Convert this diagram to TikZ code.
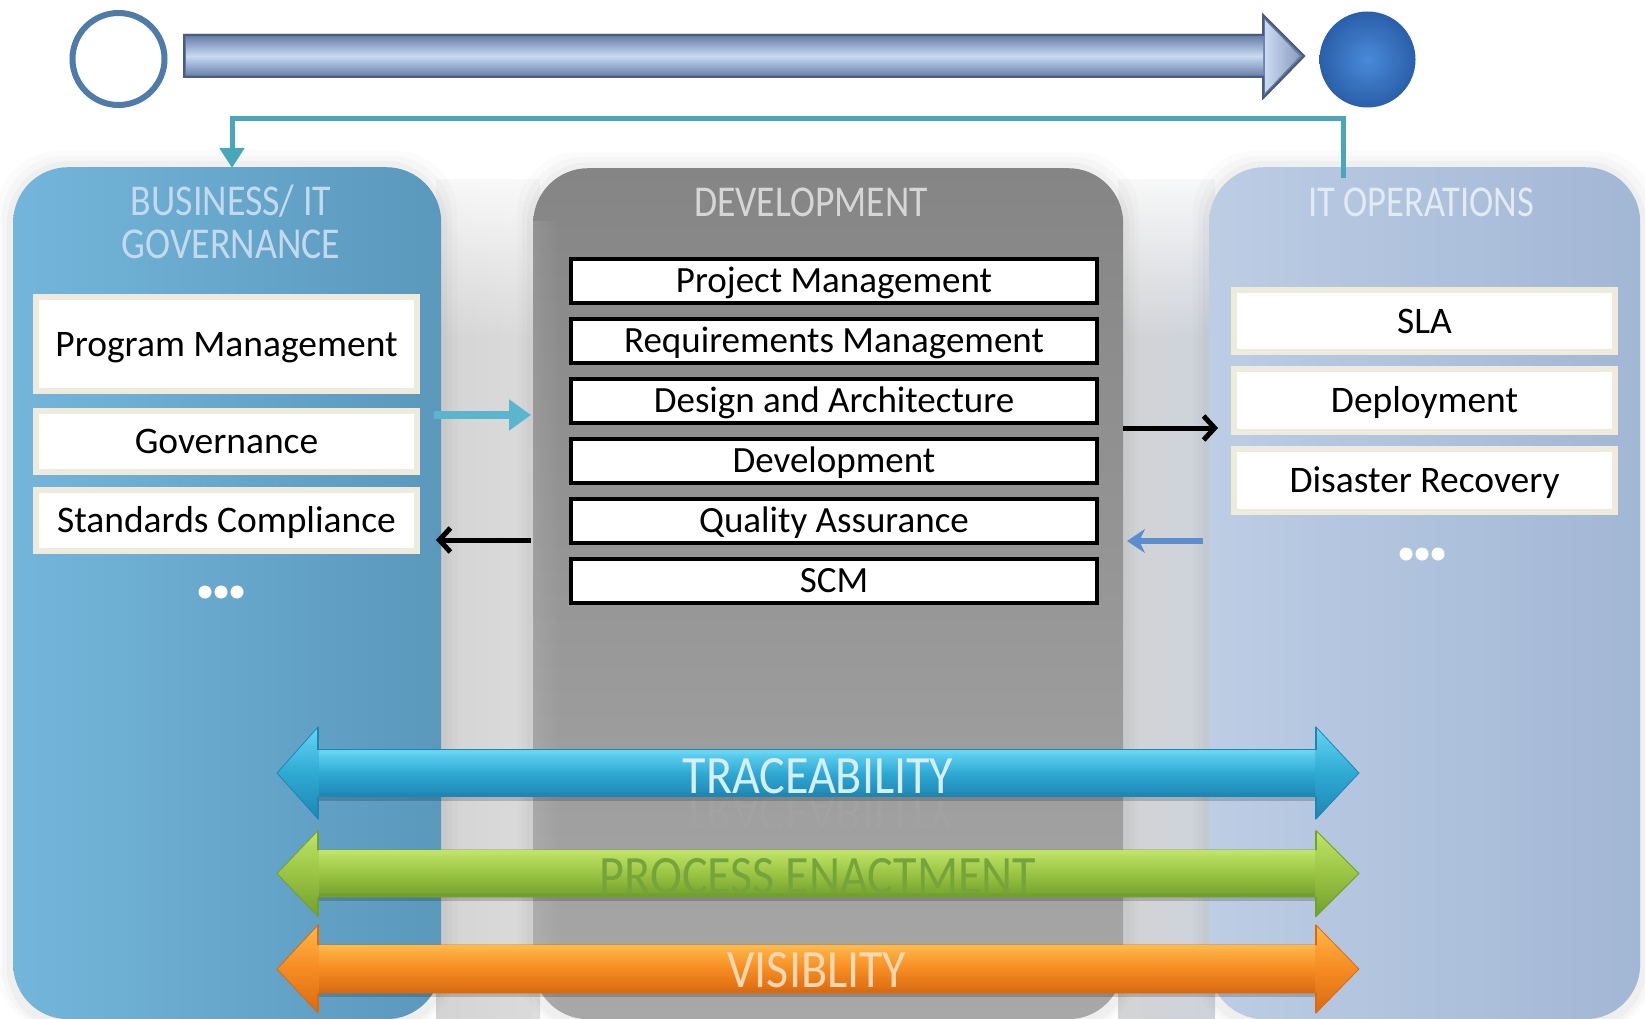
\documentclass[tikz,border=0pt]{standalone}
\usepackage{fontspec}
\setmainfont{Carlito}
\usetikzlibrary{arrows.meta,fadings}
\definecolor{bizL}{HTML}{74B6DB}
\definecolor{bizR}{HTML}{5A98BC}
\definecolor{devT}{HTML}{858585}
\definecolor{devB}{HTML}{A8A8A8}
\definecolor{opsL}{HTML}{BCCDE4}
\definecolor{opsR}{HTML}{A2B7D5}
\definecolor{gapR}{HTML}{CDD3DD}
\definecolor{cTeal}{HTML}{4AA7B9}
\definecolor{cTealArr}{HTML}{5AB6CF}
\definecolor{cBlueArr}{HTML}{5A8ED0}
\definecolor{cCream}{HTML}{EEEBDD}
\definecolor{hdrBiz}{HTML}{C3DAEE}
\definecolor{hdrDev}{HTML}{D6D6D6}
\definecolor{hdrOps}{HTML}{E2EAF3}
\definecolor{trcM}{HTML}{2FA9D4}
\definecolor{trcT}{HTML}{66D6F4}
\definecolor{trcB}{HTML}{1E86B3}
\definecolor{grnM}{HTML}{9AC444}
\definecolor{grnT}{HTML}{C0E468}
\definecolor{grnB}{HTML}{72A02C}
\definecolor{orgM}{HTML}{F68B22}
\definecolor{orgT}{HTML}{FDB84A}
\definecolor{orgB}{HTML}{D96A10}
\definecolor{trcTxt}{HTML}{D5EEF8}
\definecolor{grnTxt}{HTML}{76A43A}
\definecolor{orgTxt}{HTML}{FCD8B0}
\definecolor{bigEdge}{HTML}{4B5C7C}
\definecolor{bigDark}{HTML}{6C84AC}
\definecolor{bigLight}{HTML}{CADAF4}
\definecolor{startEdge}{HTML}{4E7BA8}
\definecolor{endIn}{HTML}{4A8AD8}
\definecolor{endOut}{HTML}{2A5FAA}
\tikzset{
  panel/.style={rounded corners=55pt, anchor=north west, inner sep=0pt},
  glow/.style={fill=gray, rounded corners=62pt},
  hdr/.style={font=\fontsize{44}{45}\selectfont, inner sep=0pt, align=center},
  sidebox/.style={draw=cCream, line width=6pt, fill=white, minimum width=381pt,
     font=\fontsize{37.5}{40}\selectfont, text height=24pt, text depth=0pt, inner sep=0pt},
  devbox/.style={draw=black, line width=4pt, fill=white, minimum width=526pt, minimum height=44pt,
     font=\fontsize{37}{40}\selectfont, text height=23.5pt, text depth=0pt, inner sep=0pt},
  dotnode/.style={circle, fill=white, minimum size=13pt, inner sep=0pt},
  blackarr/.style={draw=black, line width=5pt, -{Straight Barb[length=11pt,width=24pt,line width=5pt]}},
  tealarr/.style={draw=cTealArr, line width=8pt, -{Triangle[length=22pt,width=30pt]}},
  bluearr/.style={draw=cBlueArr, line width=6pt, -{Stealth[length=18pt,width=24pt]}},
  conn/.style={draw=cTeal, line width=5pt, -{Triangle[length=20pt,width=24pt]}},
  bandtxt/.style={font=\fontsize{54}{56}\selectfont, inner sep=0pt, text height=35pt, text depth=0pt},
  refl/.style={font=\fontsize{54}{56}\selectfont, inner sep=0pt, opacity=0.16},
}
% #1 centre y, #2 shaft half height, #3 head half height, #4 edge, #5 main, #6 light, #7 dark
\newcommand\bandarrow[7]{%
  \fill[black, opacity=0.18] (318,{#1+#2}) rectangle (1318,{#1+#2+4});
  \path[top color=#6, bottom color=#7, middle color=#5, draw=#4, line width=0.8pt]
    (277,#1) -- (318,{#1-#3}) -- (318,{#1-#2}) -- (1316,{#1-#2}) -- (1316,{#1-#3}) -- (1359,#1)
    -- (1316,{#1+#3}) -- (1316,{#1+#2}) -- (318,{#1+#2}) -- (318,{#1+#3}) -- cycle;
  \fill[top color=#6, bottom color=#7, middle color=#5] (319,{#1-#2+0.5}) rectangle (1315,{#1+#2-0.5});
  \fill[#6, opacity=0.8] (319,{#1-#2+0.5}) rectangle (1315,{#1-#2+4});
  \fill[#7, opacity=0.5] (319,{#1+#2-4}) rectangle (1315,{#1+#2-0.5});
  \draw[#4, line width=1.2pt] (318,{#1-#3}) -- (318,{#1-#2}) (318,{#1+#2}) -- (318,{#1+#3});
  \draw[#4, line width=1.2pt] (1316,{#1-#3}) -- (1316,{#1-#2}) (1316,{#1+#2}) -- (1316,{#1+#3});
}
\begin{document}
\begin{tikzpicture}[x=1pt,y=-1pt]
\useasboundingbox (0,0) rectangle (1645,1019);
\fill[white] (0,0) rectangle (1645,1019);

% gaps between panels
\fill[left color=gray!34, middle color=gray!10, right color=gray!28] (436,180) rectangle (540,1019);
\fill[left color=gray!34, middle color=gray!12, right color=gapR] (1118,180) rectangle (1215,1019);
\fill[white, path fading=south] (420,150) rectangle (555,340);
\fill[white, path fading=south] (1100,150) rectangle (1230,340);

% glows
\foreach \d/\o in {16/0.03, 11/0.04, 6/0.05}{
  \fill[glow, opacity=\o] ({13-\d},{167-\d}) rectangle ({441+\d},1030);
  \fill[glow, opacity=\o] ({533-\d},{168-\d}) rectangle ({1123+\d},1030);
  \fill[glow, opacity=\o] ({1209-\d},{167-\d}) rectangle ({1640+\d},1030);
}

% panels
\node[panel, minimum width=428pt, minimum height=852pt, left color=bizL, right color=bizR] (biz) at (13,167) {};
\node[panel, minimum width=590pt, minimum height=851pt, top color=devT, bottom color=devB] (dev) at (533,168) {};
\node[panel, minimum width=431pt, minimum height=852pt, left color=opsL, right color=opsR] (ops) at (1209,167) {};
\fill[white, opacity=0.1, path fading=east] (533,220) rectangle (560,1019);

% headers
\node[hdr, text=hdrBiz] (bizhdr) at (231,222) {\scalebox{0.86}[1]{BUSINESS/ IT}\\[-2pt]\scalebox{0.86}[1]{GOVERNANCE}};
\node[hdr, text=hdrDev] (devhdr) at (811,202) {\scalebox{0.855}[1]{DEVELOPMENT}};
\node[hdr, text=hdrOps] (opshdr) at (1421,202) {\scalebox{0.83}[1]{IT OPERATIONS}};

% top progress arrow
\path[fill=bigDark, draw=bigEdge, line width=2pt, line join=miter]
  (184,35) -- (1263,35) -- (1263,15) -- (1304,56) -- (1263,98) -- (1263,77) -- (184,77) -- cycle;
\fill[top color=bigDark, bottom color=bigDark, middle color=bigLight] (186,37) rectangle (1263,75);
\fill[left color=bigLight, right color=bigDark!80] (1265,20) -- (1300,56) -- (1265,93) -- cycle;
\draw[bigEdge, line width=2pt, line join=miter]
  (184,35) -- (1263,35) -- (1263,15) -- (1304,56) -- (1263,98) -- (1263,77) -- (184,77) -- cycle;

\node[circle, draw=startEdge, line width=6pt, fill=white, minimum size=92pt] (start) at (118.5,59) {};
\node[circle, inner color=endIn, outer color=endOut, minimum size=96pt] (finish) at (1367.5,59.5) {};

% feedback connector
\coordinate (opsTop) at (1343,178);
\coordinate (bizTop) at (232,168);
\coordinate (rail) at (0,119);
\draw[conn] (opsTop) -- (opsTop |- rail) -- (bizTop |- rail) -- (bizTop);

% left boxes
\node[sidebox, minimum height=94pt] (prog) at (226.5,344) {Program Management};
\node[sidebox, minimum height=61pt] (gov) at (226.5,441.5) {Governance};
\node[sidebox, minimum height=61pt] (std) at (226.5,520.5) {Standards Compliance};
\node[dotnode] (bd1) at (205,592) {};
\node[dotnode] (bd2) at (221,592) {};
\node[dotnode] (bd3) at (237,592) {};

% right boxes
\node[sidebox, minimum height=62pt] (sla) at (1424.5,321) {SLA};
\node[sidebox, minimum height=63pt] (dep) at (1424.5,400.5) {Deployment};
\node[sidebox, minimum height=63pt] (dr) at (1424.5,480.5) {Disaster Recovery};
\node[dotnode] (od1) at (1406,554) {};
\node[dotnode] (od2) at (1422,554) {};
\node[dotnode] (od3) at (1438,554) {};

% development boxes
\node[devbox] (pm) at (834,281) {Project Management};
\node[devbox] (rm) at (834,341) {Requirements Management};
\node[devbox] (da) at (834,401) {Design and Architecture};
\node[devbox] (dv) at (834,461) {Development};
\node[devbox] (qa) at (834,521) {Quality Assurance};
\node[devbox] (scm) at (834,581) {SCM};

% side connectors
\coordinate (tA) at (434,415); \coordinate (tB) at (531,415);
\coordinate (kA) at (1123,428); \coordinate (kB) at (1218,428);
\coordinate (lA) at (531,540); \coordinate (lB) at (436,540);
\coordinate (uA) at (1203,541); \coordinate (uB) at (1127,541);
\draw[tealarr] (tA) -- (tB);
\draw[blackarr] (kA) -- (kB);
\draw[blackarr] (lA) -- (lB);
\draw[bluearr] (uA) -- (uB);

% reflections of band labels
\begin{scope}
\clip (300,797) rectangle (1330,826);
\node[refl, text=gray!60] (traceR) at (818,813) {\scalebox{0.89}[-1]{TRACEABILITY}};
\end{scope}
\begin{scope}
\clip (300,897) rectangle (1330,924);
\node[refl, text=gray!70] (procR) at (818,913) {\scalebox{0.89}[-1]{PROCESS ENACTMENT}};
\end{scope}

% bottom double arrows
\bandarrow{773}{23.5}{46}{trcB}{trcM}{trcT}{trcB}
\bandarrow{873.5}{23.5}{43}{grnB}{grnM}{grnT}{grnB}
\bandarrow{969}{24}{44}{orgB}{orgM}{orgT}{orgB}

\node[bandtxt, text=trcTxt] (trace) at (818,776) {\scalebox{0.89}[1]{TRACEABILITY}};
\node[bandtxt, text=grnTxt] (proc) at (818,876) {\scalebox{0.89}[1]{PROCESS ENACTMENT}};
\node[bandtxt, text=orgTxt] (vis) at (817,970) {\scalebox{0.89}[1]{VISIBLITY}};
\end{tikzpicture}
\end{document}
